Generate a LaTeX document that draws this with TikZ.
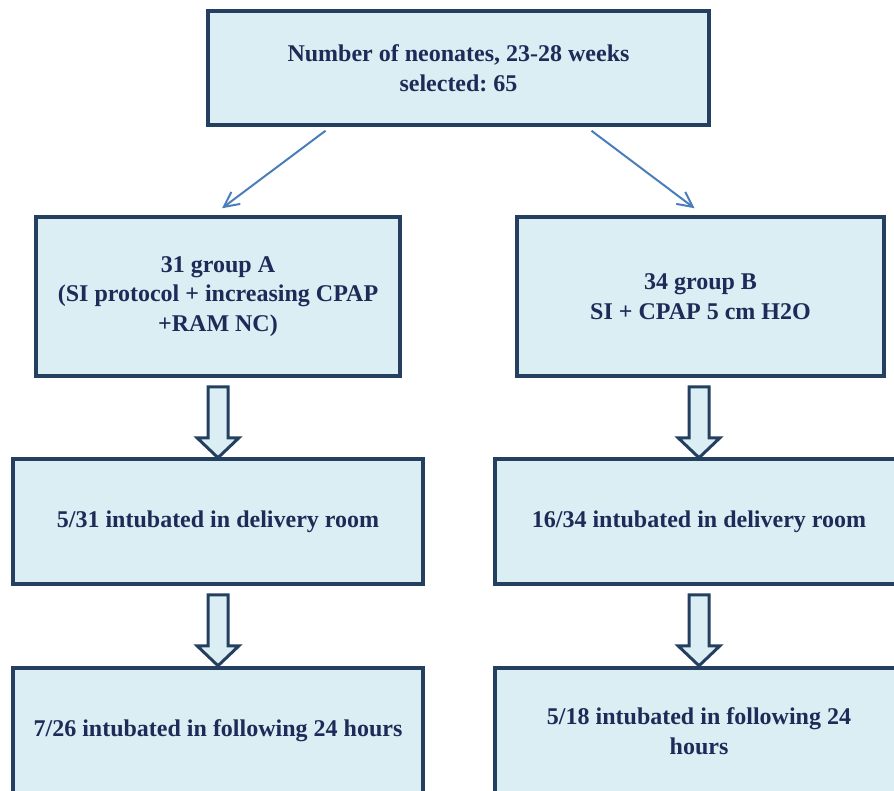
\documentclass[tikz,border=0pt]{standalone}
\usepackage{fontspec}
\setmainfont{Liberation Serif}
\usetikzlibrary{arrows.meta,calc}
\frenchspacing
\definecolor{boxfill}{HTML}{DAEEF3}
\definecolor{boxline}{HTML}{243F60}
\definecolor{boxtext}{HTML}{1F2A58}
\definecolor{linkblue}{HTML}{4A7EBB}
\tikzset{
	stagebox/.style={draw=boxline, fill=boxfill, line width=3.5pt, align=center,
		text=boxtext, font=\fontsize{24}{29.5}\selectfont\bfseries, inner sep=0pt},
	splitlink/.style={draw=linkblue, line width=2pt, -{Straight Barb[length=15pt,width=15pt]}},
	blockarrow/.style={draw=boxline, fill=boxfill, line width=3pt, line join=miter}
}
% hollow down arrow hanging from coordinate #1
\newcommand{\hollowdown}[1]{
	\draw[blockarrow] ($(#1)+(-10,0)$) -- ++(20,0) -- ++(0,51) -- ++(11,0)
		-- ($(#1)+(0,71)$) -- ($(#1)+(-21,51)$) -- ++(11,0) -- cycle;
}
\begin{document}
\begin{tikzpicture}[x=1pt,y=-1pt]
	\useasboundingbox (0,0) rectangle (894,790);
	\clip (0,0) rectangle (894,790);
	% boxes
	\node[stagebox, minimum width=501pt, minimum height=114pt] (top) at (458.5,68)
		{Number of neonates, 23-28 weeks\\selected: 65};
	\node[stagebox, minimum width=364pt, minimum height=159pt] (grpA) at (218,296.5)
		{31 group A\\(SI protocol + increasing CPAP\\+RAM NC)};
	\node[stagebox, minimum width=367pt, minimum height=159pt] (grpB) at (700.5,296.5)
		{34 group B\\SI + CPAP 5 cm H2O};
	\node[stagebox, minimum width=410pt, minimum height=125pt] (drA) at (218,521.5)
		{5/31 intubated in delivery room};
	\node[stagebox, minimum width=408pt, minimum height=125pt] (drB) at (699,521.5)
		{16/34 intubated in delivery room};
	\node[stagebox, minimum width=410pt, minimum height=126pt] (latA) at (218,731)
		{7/26 intubated in following 24 hours};
	\node[stagebox, minimum width=408pt, minimum height=126pt] (latB) at (699,731)
		{5/18 intubated in following 24\\hours};
	% split
	\draw[splitlink] ([xshift=-133pt,yshift=-4pt]top.south) -- ([xshift=4pt,yshift=7pt]grpA.north);
	\draw[splitlink] ([xshift=133pt,yshift=-4pt]top.south) -- ([xshift=-6pt,yshift=7pt]grpB.north);
	% hollow arrows
	\coordinate (hA1) at ($(grpA.south)+(0,9)$);
	\coordinate (hB1) at ($(grpB.south)+(-1.5,9)$);
	\coordinate (hA2) at ($(drA.south)+(0,9)$);
	\coordinate (hB2) at ($(drB.south)+(0,9)$);
	\foreach \c in {hA1,hB1,hA2,hB2} {\hollowdown{\c}}
\end{tikzpicture}
\end{document}
